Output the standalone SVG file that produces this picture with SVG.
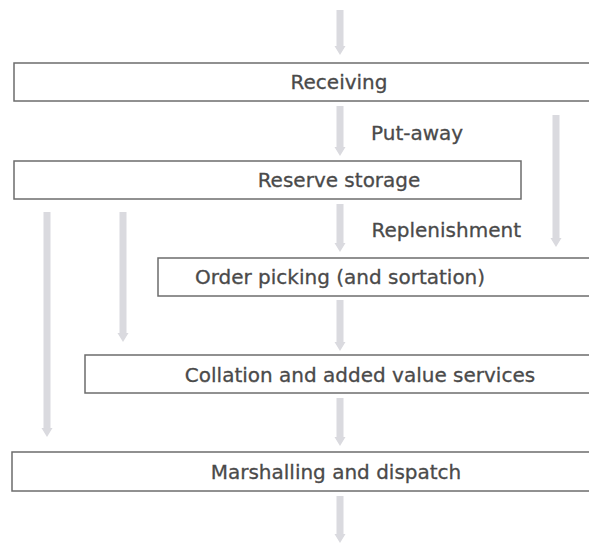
<svg xmlns="http://www.w3.org/2000/svg" width="589" height="543" viewBox="0 0 589 543">
<style>
.box{fill:#fff;stroke:#6c6c6c;stroke-width:1.5}
.t{font-family:"DejaVu Sans",sans-serif;font-size:20px;fill:#4a4a4a;stroke:#4a4a4a;stroke-width:0.3;text-anchor:middle}
.lbl{font-family:"DejaVu Sans",sans-serif;font-size:20px;fill:#4a4a4a;stroke:#4a4a4a;stroke-width:0.3}
.arr{fill:#dadadf}
</style>
<rect width="589" height="543" fill="#fff"/>
<g id="connectors">
<path class="arr" d="M336.5,10 H343.5 V46 H345.5 L340,55 L334.5,46 H336.5 Z"/>
<path class="arr" d="M336.5,106 H343.5 V147 H345.5 L340,156 L334.5,147 H336.5 Z"/>
<path class="arr" d="M552.5,115 H559.5 V238 H561.5 L556,247 L550.5,238 H552.5 Z"/>
<path class="arr" d="M336.5,204 H343.5 V243 H345.5 L340,252 L334.5,243 H336.5 Z"/>
<path class="arr" d="M43.5,212 H50.5 V428 H52.5 L47,437 L41.5,428 H43.5 Z"/>
<path class="arr" d="M119.5,212 H126.5 V333 H128.5 L123,342 L117.5,333 H119.5 Z"/>
<path class="arr" d="M336.5,300 H343.5 V342 H345.5 L340,351 L334.5,342 H336.5 Z"/>
<path class="arr" d="M336.5,398 H343.5 V437 H345.5 L340,446 L334.5,437 H336.5 Z"/>
<path class="arr" d="M336.5,496 H343.5 V534 H345.5 L340,543 L334.5,534 H336.5 Z"/>
</g>
<g id="receiving">
<rect class="box" x="14" y="63" width="590" height="38"/>
<text class="t" x="339" y="89">Receiving</text>
</g>
<g id="put-away">
<text class="lbl" x="371" y="140">Put-away</text>
</g>
<g id="reserve-storage">
<rect class="box" x="14" y="161" width="507" height="38"/>
<text class="t" x="339" y="187">Reserve storage</text>
</g>
<g id="replenishment">
<text class="lbl" x="521" y="237" text-anchor="end">Replenishment</text>
</g>
<g id="order-picking">
<rect class="box" x="158" y="258" width="450" height="38"/>
<text class="t" x="340" y="284">Order picking (and sortation)</text>
</g>
<g id="collation">
<rect class="box" x="85" y="355" width="520" height="38"/>
<text class="t" x="360" y="382">Collation and added value services</text>
</g>
<g id="marshalling">
<rect class="box" x="12" y="452" width="590" height="39"/>
<text class="t" x="336" y="479">Marshalling and dispatch</text>
</g>
</svg>
